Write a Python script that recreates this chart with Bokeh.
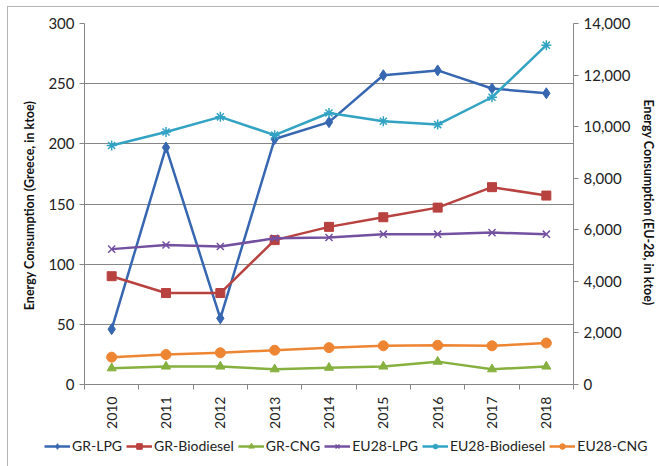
import numpy as np
from bokeh.plotting import figure
from bokeh.layouts import column
from bokeh.models import (Range1d, LinearAxis, FixedTicker, NumeralTickFormatter,
                          Legend, LegendItem)
from bokeh.embed import file_html
from bokeh.resources import INLINE

years = ["2010", "2011", "2012", "2013", "2014", "2015", "2016", "2017", "2018"]
gr_lpg = [46, 197, 55, 204, 218, 257, 261, 246, 242]
gr_biodiesel = [90, 76, 76, 120, 131, 139, 147, 164, 157]
gr_cng = [13.5, 15, 15, 12.7, 14, 15, 19, 12.7, 15]
eu_lpg = [5250, 5410, 5350, 5670, 5700, 5830, 5830, 5890, 5830]
eu_biodiesel = [9270, 9790, 10380, 9670, 10530, 10210, 10080, 11140, 13160]
eu_cng = [1060, 1160, 1230, 1330, 1430, 1500, 1520, 1500, 1610]

left_ticks = [0, 50, 100, 150, 200, 250, 300]
right_ticks = [0, 2000, 4000, 6000, 8000, 10000, 12000, 14000]

FONT = "Lato"
GRAY = "#868686"

x = list(np.arange(len(years)) + 0.5)

p = figure(width=651, height=424, output_backend="svg", toolbar_location=None,
           x_range=Range1d(0, len(years)), y_range=Range1d(0, 300),
           min_border_left=76, min_border_right=86, min_border_top=16,
           min_border_bottom=46)
p.outline_line_color = None
p.frame_align = False
p.extra_y_ranges = {"eu": Range1d(0, 14000)}

# x axis
xa = p.xaxis[0]
xa.ticker = FixedTicker(ticks=x, minor_ticks=list(range(len(years) + 1)))
xa.major_label_overrides = {float(v): y for v, y in zip(x, years)}
xa.major_label_orientation = np.pi / 2
xa.major_tick_line_color = None
xa.minor_tick_line_color = GRAY
xa.minor_tick_out = 5
xa.minor_tick_in = 0
xa.axis_line_color = GRAY
xa.major_label_text_font = FONT
xa.major_label_text_font_size = "14px"
xa.major_label_text_color = "#222222"
xa.major_label_standoff = 6
p.xgrid.visible = False

# left axis
ya = p.yaxis[0]
ya.ticker = FixedTicker(ticks=left_ticks)
ya.minor_tick_line_color = None
ya.major_tick_out = 5
ya.major_tick_in = 0
ya.major_tick_line_color = GRAY
ya.axis_line_color = GRAY
ya.major_label_text_font = FONT
ya.major_label_text_font_size = "15px"
ya.major_label_text_color = "#222222"
ya.axis_label = "Energy Consumption  (Greece, in ktoe)"
ya.axis_label_text_font = FONT
ya.axis_label_text_font_style = "bold"
ya.axis_label_text_font_size = "12.5px"
ya.axis_label_text_color = "#111111"
ya.axis_label_standoff = 8
p.ygrid.ticker = FixedTicker(ticks=left_ticks)
p.ygrid.grid_line_color = GRAY
p.ygrid.grid_line_width = 1

# right axis
ra = LinearAxis(y_range_name="eu", ticker=FixedTicker(ticks=right_ticks),
                formatter=NumeralTickFormatter(format="0,0"))
ra.minor_tick_line_color = None
ra.major_tick_out = 5
ra.major_tick_in = 0
ra.major_tick_line_color = GRAY
ra.axis_line_color = GRAY
ra.major_label_text_font = FONT
ra.major_label_text_font_size = "15px"
ra.major_label_text_color = "#222222"
ra.axis_label = "Energy Consumption  (EU-28, in ktoe)"
ra.axis_label_text_font = FONT
ra.axis_label_text_font_style = "bold"
ra.axis_label_text_font_size = "12.5px"
ra.axis_label_text_color = "#111111"
ra.axis_label_standoff = 8
p.add_layout(ra, "right")

series = [
    ("GR-LPG", gr_lpg, "default", "#3767B1", "diamond", 11),
    ("GR-Biodiesel", gr_biodiesel, "default", "#B8423F", "square", 9),
    ("GR-CNG", gr_cng, "default", "#86B03F", "triangle", 9),
    ("EU28-LPG", eu_lpg, "eu", "#7350A0", "x", 10),
    ("EU28-Biodiesel", eu_biodiesel, "eu", "#33A3C4", "asterisk", 10),
    ("EU28-CNG", eu_cng, "eu", "#EE8533", "circle", 10),
]

# legend strip below the chart: same series, drawn outside its visible range
lg = figure(width=651, height=36, output_backend="svg", toolbar_location=None,
            x_range=Range1d(0, len(years)), y_range=Range1d(-2, -1),
            min_border=0, outline_line_color=None)
lg.frame_align = False
lg.axis.visible = False
lg.grid.visible = False
lg.extra_y_ranges = {"eu": Range1d(-2, -1)}

items = []
for name, vals, rng, color, marker, size in series:
    kw = {} if rng == "default" else {"y_range_name": rng}
    p.line(x, vals, line_color=color, line_width=2.5, **kw)
    if marker in ("x", "asterisk"):
        mk = dict(marker=marker, size=size, line_color=color, line_width=1.5,
                  fill_color=None)
    else:
        mk = dict(marker=marker, size=size, line_color=color, fill_color=color)
    p.scatter(x, vals, **mk, **kw)
    ll = lg.line(x, vals, line_color=color, line_width=2.5, **kw)
    lm = lg.scatter(x, vals, **mk, **kw)
    items.append(LegendItem(label=name, renderers=[ll, lm]))

legend = Legend(items=items, orientation="horizontal", location=(36, 13),
                label_text_font=FONT, label_text_font_size="14px",
                label_text_color="#222222", glyph_width=26, glyph_height=14,
                label_standoff=2, spacing=4, padding=0, margin=0,
                border_line_color=None, background_fill_alpha=0)
lg.add_layout(legend, "center")

layout = column(p, lg, margin=(6, 0, 0, 7),
                styles={"border-top": "1px solid #b4b4b4",
                        "border-left": "1px solid #b4b4b4"})

open("out.html", "w").write(file_html(layout, INLINE))
